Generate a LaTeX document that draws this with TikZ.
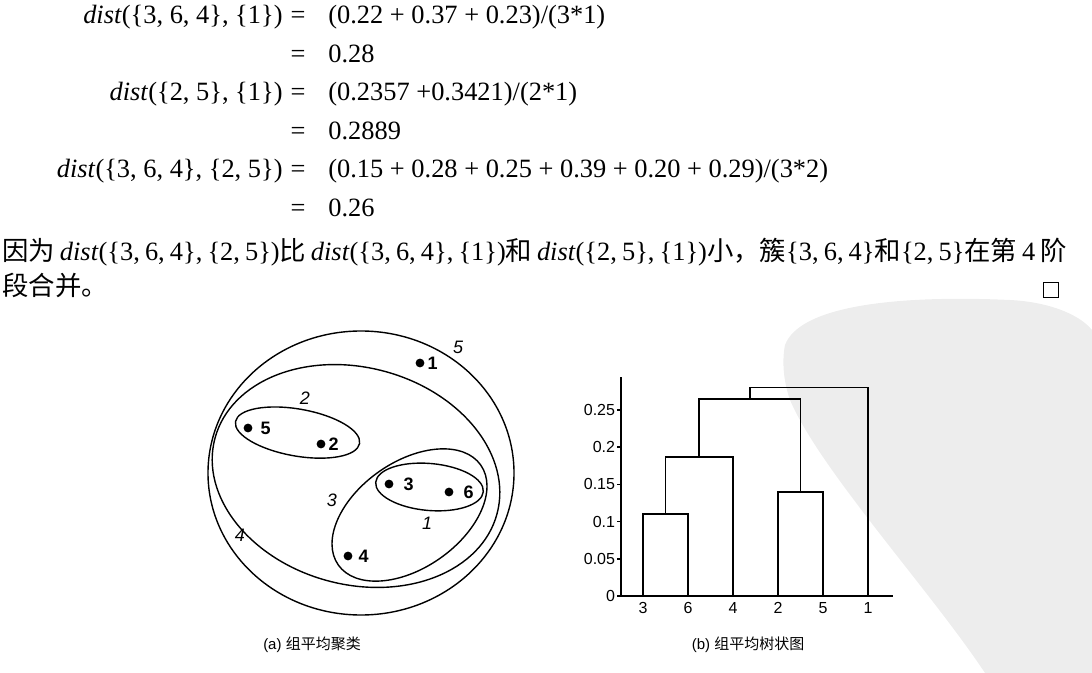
\documentclass[tikz,border=0pt]{standalone}
\usepackage{fontspec}
\setmainfont{Liberation Serif}
\setsansfont{Liberation Sans}
\newfontfamily\cjk{Noto Sans CJK SC}
\usepackage{tikz}
\usetikzlibrary{positioning}
\definecolor{SealGray}{HTML}{EDEDED}
\tikzset{
  eqtext/.style={inner sep=0pt,font=\fontsize{13.2}{16}\selectfont},
  dotpt/.style={circle,fill=black,inner sep=0pt,minimum size=4.4pt},
  ptlabel/.style={inner sep=0pt,font=\sffamily\bfseries\fontsize{9}{10}\selectfont},
  clabel/.style={inner sep=0pt,font=\sffamily\itshape\fontsize{9}{10}\selectfont},
  clusterline/.style={line width=0.7pt},
  treeline/.style={line width=0.8pt},
  ticklabel/.style={inner sep=0.6pt,font=\sffamily\fontsize{8}{9}\selectfont},
  captext/.style={inner sep=0pt,font=\sffamily\fontsize{7.5}{9}\selectfont}
}

\begin{document}
\begin{tikzpicture}[x=0.5pt,y=-0.5pt]
\useasboundingbox (0,0) rectangle (1092,673);
% seal in the background
\fill[SealGray] (785,345) .. controls (800,305) and (900,295) .. (1010,300)
  .. controls (1050,302) and (1080,315) .. (1092,330) -- (1092,673) -- (985,673)
  .. controls (930,590) and (820,470) .. (790,400)
  .. controls (783,380) and (782,360) .. (785,345) -- cycle;

% worked example
\node[eqtext,anchor=base east] (lhsA) at (283,24) {\textit{dist}(\{3, 6, 4\}, \{1\})};
\node[eqtext,anchor=base] (eqA) at (298,24) {=};
\node[eqtext,anchor=base west] (rhsA) at (328,24) {(0.22 + 0.37 + 0.23)/(3*1)};
\node[eqtext,anchor=base] (eqB) at (298,62.5) {=};
\node[eqtext,anchor=base west] (rhsB) at (328,62.5) {0.28};
\node[eqtext,anchor=base east] (lhsC) at (283,101) {\textit{dist}(\{2, 5\}, \{1\})};
\node[eqtext,anchor=base] (eqC) at (298,101) {=};
\node[eqtext,anchor=base west] (rhsC) at (328,101) {(0.2357 +0.3421)/(2*1)};
\node[eqtext,anchor=base] (eqD) at (298,139.5) {=};
\node[eqtext,anchor=base west] (rhsD) at (328,139.5) {0.2889};
\node[eqtext,anchor=base east] (lhsE) at (283,178) {\textit{dist}(\{3, 6, 4\}, \{2, 5\})};
\node[eqtext,anchor=base] (eqE) at (298,178) {=};
\node[eqtext,anchor=base west] (rhsE) at (328,178) {(0.15 + 0.28 + 0.25 + 0.39 + 0.20 + 0.29)/(3*2)};
\node[eqtext,anchor=base] (eqF) at (298,216.5) {=};
\node[eqtext,anchor=base west] (rhsF) at (328,216.5) {0.26};

\node[eqtext,anchor=base west] (why) at (2,261) {\makebox[532pt][s]{{\cjk 因为} \textit{dist}(\{3, 6, 4\}, \{2, 5\}){\cjk 比} \textit{dist}(\{3, 6, 4\}, \{1\}){\cjk 和} \textit{dist}(\{2, 5\}, \{1\}){\cjk 小，簇}\{3, 6, 4\}{\cjk 和}\{2, 5\}{\cjk 在第} 4 {\cjk 阶}}};
\node[eqtext,anchor=base west] (why2) at (2,296) {{\cjk 段合并。}};
\node[draw,line width=0.5pt,minimum size=7.5pt,inner sep=0pt] (qed) at (1051,290) {};

% (a) nested clusters
\coordinate (c5) at (361,473);
\coordinate (c4) at (356,476);
\coordinate (c2) at (297.5,432.5);
\coordinate (c3) at (409.5,515);
\coordinate (c1) at (429.5,487);
\draw[clusterline] (c5) ellipse [x radius=153,y radius=142];
\draw[clusterline,rotate around={-15:(c4)}] (c4) ellipse [x radius=146,y radius=108.5];
\draw[clusterline,rotate around={-10:(c2)}] (c2) ellipse [x radius=63,y radius=23.5];
\draw[clusterline,rotate around={35:(c3)}] (c3) ellipse [x radius=87,y radius=53];
\draw[clusterline,rotate around={-5:(c1)}] (c1) ellipse [x radius=54,y radius=23.5];

\node[dotpt] (d1) at (420,363) {};
\node[dotpt] (d2) at (321,444) {};
\node[dotpt] (d3) at (389,484) {};
\node[dotpt] (d4) at (348,556) {};
\node[dotpt] (d5) at (248,428) {};
\node[dotpt] (d6) at (449,492) {};
\node[ptlabel,right=1.25pt of d1] (n1) {1};
\node[ptlabel,right=1.25pt of d2] (n2) {2};
\node[ptlabel,right=4.75pt of d3] (n3) {3};
\node[ptlabel,right=2.75pt of d4] (n4) {4};
\node[ptlabel,right=3.75pt of d5] (n5) {5};
\node[ptlabel,right=4.75pt of d6] (n6) {6};

\node[clabel] (k1) at (427,523) {1};
\node[clabel] (k2) at (305,398) {2};
\node[clabel] (k3) at (332,500) {3};
\node[clabel] (k4) at (240,535) {4};
\node[clabel] (k5) at (458,347) {5};

\node[captext] (capa) at (312,645) {(a) {\cjk 组平均聚类}};

% (b) dendrogram
\begin{scope}[shift={(621,596)},x=0.5pt,y=372pt]
\draw[treeline] (0,0.294) -- (0,0) -- (272,0);
\foreach \v [count=\i] in {0,0.05,0.1,0.15,0.2,0.25}
  \draw[treeline] (0,\v) -- (-4,\v) node[ticklabel,anchor=east] (tick\i) {\v};
\foreach \lx/\lab in {22/3,67/6,112/4,157/2,202/5,247/1} {
  \coordinate (f\lab) at (\lx,0);
  \node[ticklabel,below=2.6pt of f\lab] (leaf\lab) {\lab};
}
\coordinate (m36) at (44.5,0.11);
\coordinate (m364) at (78.25,0.187);
\coordinate (m25) at (179.5,0.14);
\coordinate (m36425) at (128.9,0.265);
\coordinate (mall) at (187.95,0.28);
\draw[treeline] (f3) |- (m36) -| (f6);
\draw[treeline] (m36) |- (m364) -| (f4);
\draw[treeline] (f2) |- (m25) -| (f5);
\draw[treeline] (m364) |- (m36425) -| (m25);
\draw[treeline] (m36425) |- (mall) -| (f1);
\end{scope}
\node[captext] (capb) at (748,645) {(b) {\cjk 组平均树状图}};
\end{tikzpicture}
\end{document}
